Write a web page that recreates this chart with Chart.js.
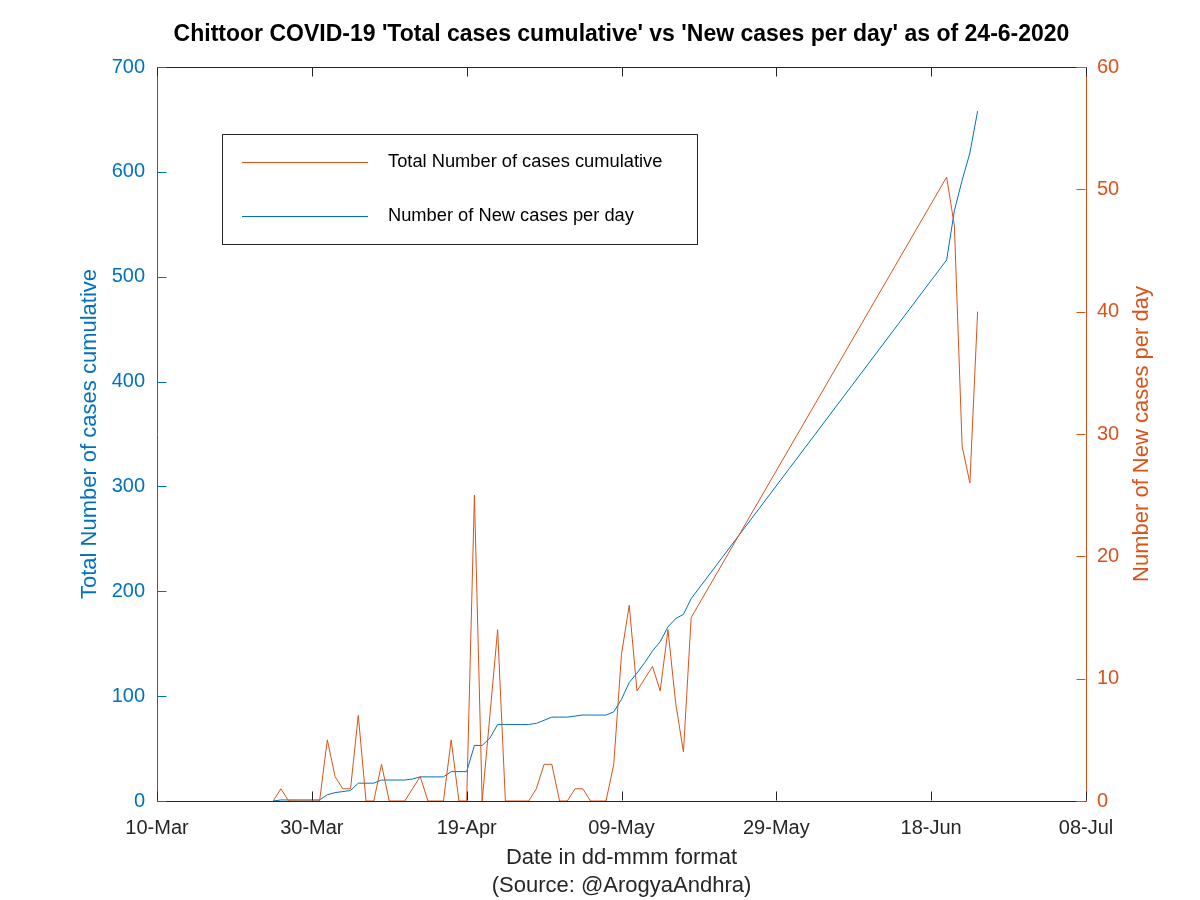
<!DOCTYPE html>
<html>
<head>
<meta charset="utf-8">
<script src="https://cdn.jsdelivr.net/npm/chart.js@4.4.1/dist/chart.umd.min.js"></script>
<style>
  body { margin: 0; background: #ffffff; }
</style>
</head>
<body>
<canvas id="covidChart" width="1200" height="900"></canvas>
<script>
// day index counted from 10-Mar-2020 (0 = 10-Mar)
var dayIndex = [15, 16, 17, 18, 19, 20, 21, 22, 23, 24, 25, 26, 27, 28, 29, 30, 31, 32, 33, 34,
                35, 36, 37, 38, 39, 40, 41, 42, 43, 44, 45, 46, 47, 48, 49, 50, 51, 52, 53, 54,
                55, 56, 57, 58, 59, 60, 61, 62, 63, 64, 65, 66, 67, 68, 69,
                102, 103, 104, 105, 106];

// cumulative cases (left axis, blue)
var totalCases = [0, 1, 1, 1, 1, 1, 1, 6, 8, 9, 10, 17, 17, 17, 20, 20, 20, 20, 21, 23,
                  23, 23, 23, 28, 28, 28, 53, 53, 60, 73, 73, 73, 73, 73, 74, 77, 80, 80, 80, 81,
                  82, 82, 82, 82, 85, 97, 113, 122, 132, 143, 152, 166, 174, 178, 193,
                  516, 563, 592, 618, 658];

// new cases per day (right axis, orange)
var newCases = [0, 1, 0, 0, 0, 0, 0, 5, 2, 1, 1, 7, 0, 0, 3, 0, 0, 0, 1, 2,
                0, 0, 0, 5, 0, 0, 25, 0, 7, 14, 0, 0, 0, 0, 1, 3, 3, 0, 0, 1,
                1, 0, 0, 0, 3, 12, 16, 9, 10, 11, 9, 14, 8, 4, 15,
                51, 47, 29, 26, 40];

var tickDays = [0, 20, 40, 60, 80, 100, 120];
var tickLabels = ['10-Mar', '30-Mar', '19-Apr', '09-May', '29-May', '18-Jun', '08-Jul'];

var BLUE = '#0072BD';
var ORANGE = '#D95319';
var DARK = '#262626';
var FONT = "'Liberation Sans', Arial, Helvetica, sans-serif";

function toPoints(values) {
    return dayIndex.map(function (d, i) { return {x: d, y: values[i]}; });
}

function strokeLine(ctx, x1, y1, x2, y2) {
    ctx.beginPath();
    ctx.moveTo(x1, y1);
    ctx.lineTo(x2, y2);
    ctx.stroke();
}

// title, legend box, inward tick marks, top frame and right axis label
var decorPlugin = {
    id: 'decor',
    afterDraw: function (chart) {
        var ctx = chart.ctx;
        var area = chart.chartArea;
        var xs = chart.scales.x, yl = chart.scales.y, yr = chart.scales.y1;
        var left = Math.round(area.left) + 0.5, right = Math.round(area.right) - 0.5;
        var top = Math.round(area.top) + 0.5, bottom = Math.round(area.bottom) - 0.5;

        ctx.save();
        ctx.lineWidth = 1;

        // top frame
        ctx.strokeStyle = DARK;
        strokeLine(ctx, left, top, right, top);

        // x ticks, bottom and top
        tickDays.forEach(function (d) {
            var px = Math.round(xs.getPixelForValue(d)) + 0.5;
            strokeLine(ctx, px, bottom, px, bottom - 9);
            strokeLine(ctx, px, top, px, top + 9);
        });

        // left ticks
        ctx.strokeStyle = BLUE;
        yl.ticks.forEach(function (t) {
            var py = Math.round(yl.getPixelForValue(t.value)) + 0.5;
            strokeLine(ctx, left, py, left + 9, py);
        });

        // right ticks
        ctx.strokeStyle = ORANGE;
        yr.ticks.forEach(function (t) {
            var py = Math.round(yr.getPixelForValue(t.value)) + 0.5;
            strokeLine(ctx, right, py, right - 9, py);
        });

        // chart title
        ctx.fillStyle = '#000000';
        ctx.font = 'bold 23px ' + FONT;
        ctx.textAlign = 'center';
        ctx.textBaseline = 'middle';
        ctx.fillText("Chittoor COVID-19 'Total cases cumulative' vs 'New cases per day' as of 24-6-2020",
                     (area.left + area.right) / 2, 35);

        // right axis label, reading bottom to top
        ctx.save();
        ctx.translate(1142, (area.top + area.bottom) / 2);
        ctx.rotate(-Math.PI / 2);
        ctx.fillStyle = ORANGE;
        ctx.font = '22px ' + FONT;
        ctx.fillText('Number of New cases per day', 0, 0);
        ctx.restore();

        // legend box
        ctx.fillStyle = '#ffffff';
        ctx.fillRect(222, 134, 475, 110);
        ctx.strokeStyle = DARK;
        ctx.strokeRect(222.5, 134.5, 475, 110);

        ctx.strokeStyle = ORANGE;
        strokeLine(ctx, 242, 162.5, 368, 162.5);
        ctx.strokeStyle = BLUE;
        strokeLine(ctx, 242, 216.5, 368, 216.5);

        ctx.fillStyle = '#000000';
        ctx.font = '18.3px ' + FONT;
        ctx.textAlign = 'left';
        ctx.fillText('Total Number of cases cumulative', 388, 162);
        ctx.fillText('Number of New cases per day', 388, 216);

        ctx.restore();
    }
};

var ctx = document.getElementById('covidChart').getContext('2d');
new Chart(ctx, {
    type: 'line',
    data: {
        datasets: [
            {
                label: 'Number of New cases per day',
                data: toPoints(newCases),
                yAxisID: 'y1',
                borderColor: ORANGE,
                borderWidth: 1,
                pointRadius: 0,
                tension: 0,
                fill: false,
                order: 1
            },
            {
                label: 'Total Number of cases cumulative',
                data: toPoints(totalCases),
                yAxisID: 'y',
                borderColor: BLUE,
                borderWidth: 1,
                pointRadius: 0,
                tension: 0,
                fill: false,
                order: 2
            }
        ]
    },
    options: {
        responsive: false,
        animation: false,
        layout: { padding: { top: 67, left: 0, right: 0, bottom: 0 } },
        plugins: {
            title: { display: false },
            legend: { display: false },
            tooltip: { enabled: false }
        },
        scales: {
            x: {
                type: 'linear',
                min: 0,
                max: 120,
                afterBuildTicks: function (scale) {
                    scale.ticks = tickDays.map(function (v) { return {value: v}; });
                },
                afterFit: function (scale) { scale.height = 99; },
                ticks: {
                    color: DARK,
                    font: { family: FONT, size: 20 },
                    padding: 15,
                    maxRotation: 0,
                    autoSkip: false,
                    callback: function (value) {
                        var i = tickDays.indexOf(value);
                        return i >= 0 ? tickLabels[i] : '';
                    }
                },
                grid: { drawOnChartArea: false, drawTicks: false },
                border: { color: DARK, width: 1 },
                title: {
                    display: true,
                    text: ['Date in dd-mmm format', '(Source: @ArogyaAndhra)'],
                    color: DARK,
                    font: { family: FONT, size: 22, lineHeight: '28px' },
                    padding: { top: 0, bottom: 0 }
                }
            },
            y: {
                position: 'left',
                min: 0,
                max: 700,
                afterFit: function (scale) { scale.width = 157; },
                ticks: {
                    stepSize: 100,
                    color: BLUE,
                    font: { family: FONT, size: 20 },
                    padding: 12
                },
                grid: { drawOnChartArea: false, drawTicks: false },
                border: { color: BLUE, width: 1 },
                title: {
                    display: true,
                    text: 'Total Number of cases cumulative',
                    color: BLUE,
                    font: { family: FONT, size: 22 },
                    padding: { top: 77, bottom: 0 }
                }
            },
            y1: {
                position: 'right',
                min: 0,
                max: 60,
                afterFit: function (scale) { scale.width = 114; },
                ticks: {
                    stepSize: 10,
                    color: ORANGE,
                    font: { family: FONT, size: 20 },
                    padding: 11
                },
                grid: { drawOnChartArea: false, drawTicks: false },
                border: { color: ORANGE, width: 1 }
            }
        }
    },
    plugins: [decorPlugin]
});
</script>
</body>
</html>
